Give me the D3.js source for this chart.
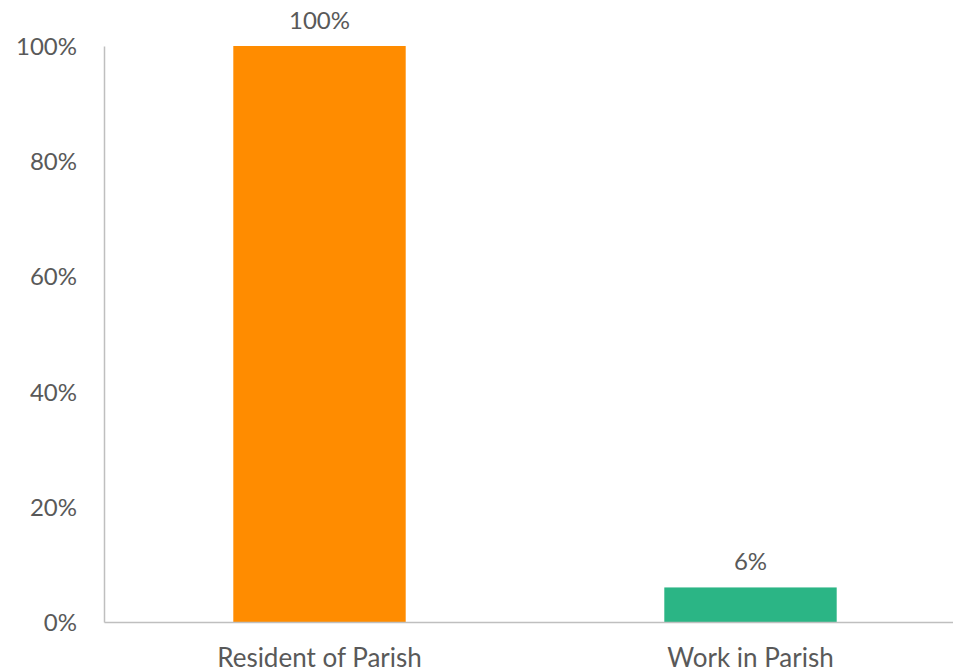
<!DOCTYPE html>
<html><head><meta charset="utf-8">
<script src="https://cdn.jsdelivr.net/npm/d3@7"></script>
<style>body{margin:0;background:#fff;}svg{display:block;}text{font-family:Lato,"Open Sans",sans-serif;fill:#595959;}</style>
</head><body><svg id="c" width="953" height="672"></svg>
<script>
const categories = ["Resident of Parish", "Work in Parish"];
const values = [100, 6];
const colors = ["#FF8C00", "#2BB585"];
const yTicks = [0, 20, 40, 60, 80, 100];

const svg = d3.select("#c");
const x = d3.scaleBand().domain(categories).range([104, 966]).paddingInner(0.6).paddingOuter(0.3);
const y = d3.scaleLinear().domain([0, 100]).range([622, 46]);

// bars
svg.selectAll("rect.bar").data(categories).enter().append("rect")
  .attr("x", d => x(d)).attr("width", x.bandwidth())
  .attr("y", (d, i) => y(values[i])).attr("height", (d, i) => y(0) - y(values[i]))
  .attr("fill", (d, i) => colors[i]);

// y axis
const yAxis = d3.axisLeft(y).tickValues(yTicks).tickSize(0).tickPadding(27).tickFormat(d => d + "%");
const gy = svg.append("g").attr("transform", "translate(104,0)").call(yAxis);
gy.select(".domain").attr("stroke", "#BFBFBF").attr("stroke-width", 1.5);
gy.selectAll("text").style("font-size", "24px").attr("dy", "0.35em");

// x axis
const xAxis = d3.axisBottom(x).tickSize(0).tickPadding(27);
const gx = svg.append("g").attr("transform", "translate(0,622)").call(xAxis);
gx.select(".domain").attr("stroke", "#BFBFBF").attr("stroke-width", 1.5);
gx.selectAll("text").style("font-size", "26px");

// data labels
svg.selectAll("text.lbl").data(categories).enter().append("text")
  .attr("class", "lbl")
  .attr("x", d => x(d) + x.bandwidth() / 2)
  .attr("y", (d, i) => y(values[i]) - 17)
  .attr("text-anchor", "middle")
  .style("font-size", "24px")
  .text((d, i) => values[i] + "%");
</script></body></html>
